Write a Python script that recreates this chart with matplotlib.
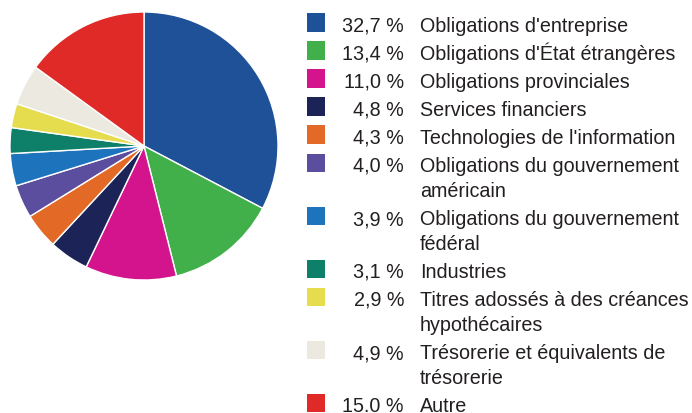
import matplotlib.pyplot as plt
from matplotlib.patches import Rectangle

pcts = ['32,7 %', '13,4 %', '11,0 %', '4,8 %', '4,3 %', '4,0 %', '3,9 %', '3,1 %', '2,9 %', '4,9 %', '15.0 %']
values = [32.7, 13.4, 11.0, 4.8, 4.3, 4.0, 3.9, 3.1, 2.9, 4.9, 15.0]
labels = ["Obligations d'entreprise", "Obligations d'État étrangères", "Obligations provinciales",
          "Services financiers", "Technologies de l'information", "Obligations du gouvernement\naméricain",
          "Obligations du gouvernement\nfédéral", "Industries", "Titres adossés à des créances\nhypothécaires",
          "Trésorerie et équivalents de\ntrésorerie", "Autre"]
colors = ['#1f5198', '#41b04a', '#d3148d', '#1c2356', '#e36926', '#5b4e9e',
          '#1e73bd', '#0e806a', '#e5dc4e', '#ece9e0', '#e02a27']

plt.rcParams['font.family'] = ['Liberation Sans', 'DejaVu Sans']

W, H = 692, 413
fig = plt.figure(figsize=(W / 100, H / 100), dpi=100)

# pie: centre (144, 146) px, radius 134 px
cx, cy, r = 144, 146, 134
ax = fig.add_axes([(cx - r) / W, 1 - (cy + r) / H, 2 * r / W, 2 * r / H])
ax.pie(values, colors=colors, startangle=90, counterclock=False, radius=1,
       wedgeprops=dict(edgecolor='white', linewidth=1))
ax.set_xlim(-1, 1)
ax.set_ylim(-1, 1)
ax.set_aspect('auto')
ax.axis('off')

txt = '#231f20'
fs = 14.2
y = 32
for p, lab, c in zip(pcts, labels, colors):
    fig.patches.append(Rectangle((307 / W, 1 - y / H), 18 / W, 18.5 / H, transform=fig.transFigure,
                                 facecolor=c, edgecolor='none'))
    fig.text(404 / W, 1 - y / H, p, ha='right', va='baseline', fontsize=fs, color=txt)
    for i, line in enumerate(lab.split('\n')):
        fig.text(420 / W, 1 - (y + 25 * i) / H, line, ha='left', va='baseline', fontsize=fs, color=txt)
    y += 28 + 25 * lab.count('\n')

fig.savefig('out.png', dpi=100)
